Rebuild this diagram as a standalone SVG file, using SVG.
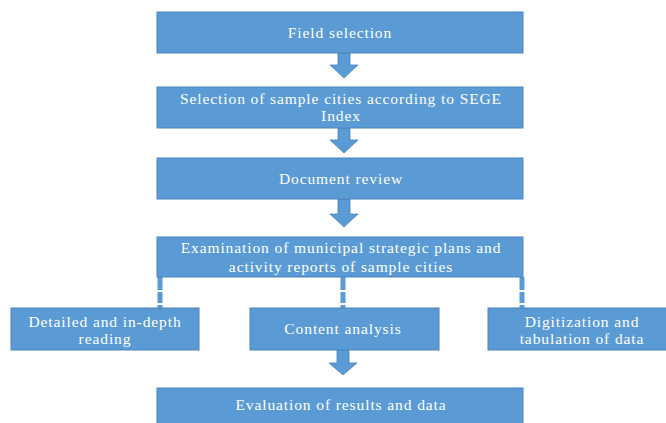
<svg xmlns="http://www.w3.org/2000/svg" width="666" height="423" viewBox="0 0 666 423">
<style>
.box{fill:#5B9BD5;stroke:#4A84BC;stroke-width:1}
.t{font-family:"Liberation Serif","Times New Roman",serif;font-size:15.5px;fill:#FFFFFF;text-anchor:middle;letter-spacing:0.9px}
.arrow{fill:#5B9BD5;stroke:#4A84BC;stroke-width:0.8}
.dash{stroke:#5B9BD5;stroke-width:5;fill:none;stroke-dasharray:13 2 11 2}
</style>
<rect width="666" height="423" fill="#FFFFFF"/>
<g id="connectors">
<polygon class="arrow" points="338,53 350,53 350,65 358,65 344,78 330,65 338,65"/>
<polygon class="arrow" points="338,128 350,128 350,140 358,140 344,153 330,140 338,140"/>
<polygon class="arrow" points="338,199 350,199 350,214 358,214 344,227 330,214 338,214"/>
<line class="dash" x1="160" y1="277" x2="160" y2="308"/>
<line class="dash" x1="343" y1="277" x2="343" y2="308"/>
<line class="dash" x1="522" y1="277" x2="522" y2="308"/>
<polygon class="arrow" points="337,350 349,350 349,363 357,363 343,375 329,363 337,363"/>
</g>
<g id="field-selection">
<rect class="box" x="157" y="12" width="366" height="41"/>
<text class="t" x="340" y="38">Field selection</text>
</g>
<g id="sample-cities">
<rect class="box" x="157" y="87" width="366" height="41"/>
<text class="t" x="341" y="104">Selection of sample cities according to SEGE</text>
<text class="t" x="341" y="121">Index</text>
</g>
<g id="document-review">
<rect class="box" x="157" y="158" width="366" height="41"/>
<text class="t" x="341" y="184">Document review</text>
</g>
<g id="examination">
<rect class="box" x="157" y="237" width="366" height="40"/>
<text class="t" x="341" y="253">Examination of municipal strategic plans and</text>
<text class="t" x="341" y="272">activity reports of sample cities</text>
</g>
<g id="detailed-reading">
<rect class="box" x="11" y="308" width="188" height="42"/>
<text class="t" x="105" y="327">Detailed and in-depth</text>
<text class="t" x="105" y="344">reading</text>
</g>
<g id="content-analysis">
<rect class="box" x="250" y="308" width="189" height="42"/>
<text class="t" x="343" y="334">Content analysis</text>
</g>
<g id="digitization">
<rect class="box" x="488" y="308" width="188" height="42"/>
<text class="t" x="582" y="327">Digitization and</text>
<text class="t" x="582" y="344">tabulation of data</text>
</g>
<g id="evaluation">
<rect class="box" x="157" y="388" width="366" height="40"/>
<text class="t" x="341" y="410">Evaluation of results and data</text>
</g>
</svg>
